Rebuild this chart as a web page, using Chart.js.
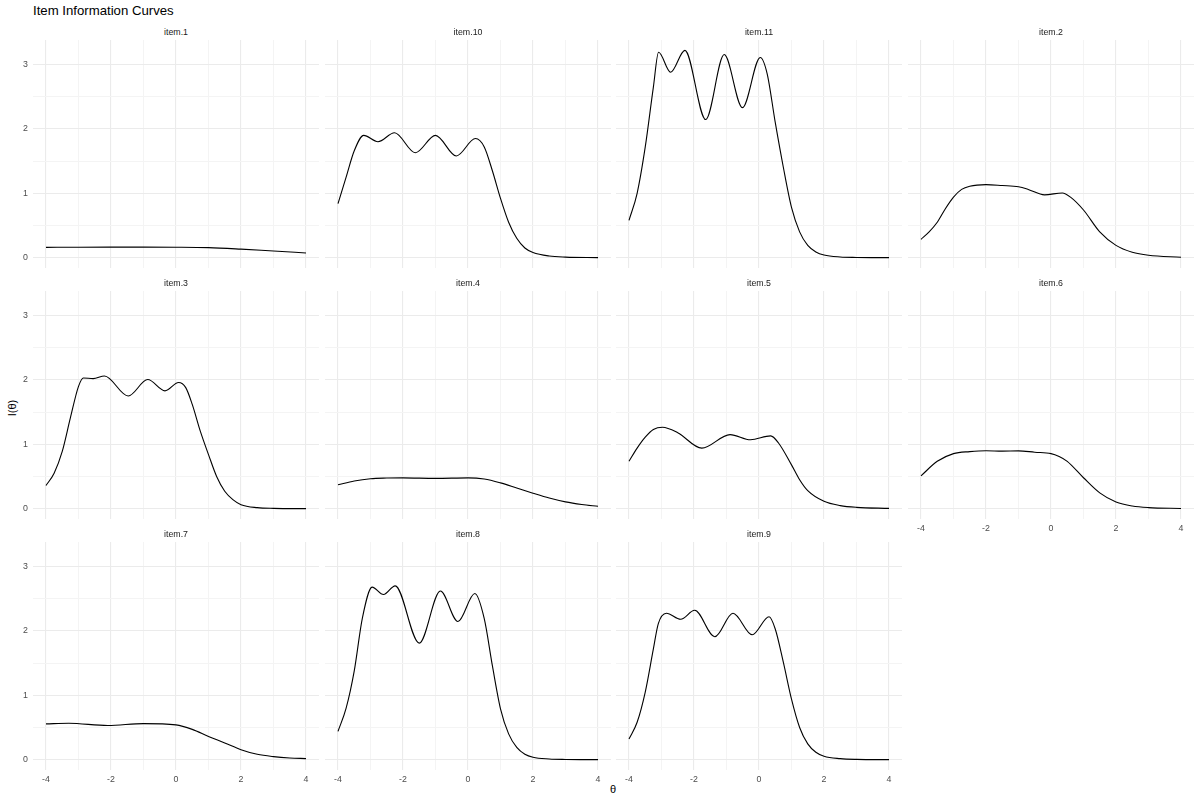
<!DOCTYPE html>
<html><head><meta charset="utf-8">
<script src="https://cdn.jsdelivr.net/npm/chart.js@4"></script>
<style>
body{margin:0;background:#fff;width:1200px;height:800px;position:relative;overflow:hidden;font-family:"Liberation Sans",Arial,sans-serif;}
canvas{position:absolute;}
.t{position:absolute;white-space:nowrap;line-height:1;}
.strip{position:absolute;text-align:center;font-size:8.8px;color:#1a1a1a;line-height:10px;}
</style></head><body>
<div class="t" style="left:33px;top:4px;font-size:13.2px;color:#000">Item Information Curves</div>
<div class="t" style="left:12px;top:408px;font-size:11px;color:#000;transform:translate(-50%,-50%) rotate(-90deg)">I(θ)</div>
<div class="t" style="left:613px;top:789px;font-size:11px;color:#000;transform:translate(-50%,-50%)">θ</div>
<script>
// ---- data ----
const panelNames = ['item.1','item.10','item.11','item.2','item.3','item.4','item.5','item.6','item.7','item.8','item.9'];
const xTicks = [-4,-3,-2,-1,0,1,2,3,4];
const yTicks = [0,0.5,1,1.5,2,2.5,3];

const item1Theta = [-4,-3,-2,-1,0,1,2,3,4];
const item1Info  = [0.160,0.162,0.163,0.163,0.162,0.156,0.132,0.102,0.073];

const item10Theta = [-4,-3.75,-3.5,-3.21,-2.77,-2.26,-1.62,-1.0,-0.36,0.23,0.5,0.75,1.0,1.25,1.5,1.75,2.0,2.5,3.0,4.0];
const item10Info  = [0.84,1.25,1.66,1.90,1.80,1.94,1.63,1.90,1.58,1.85,1.72,1.35,0.92,0.55,0.30,0.15,0.08,0.025,0.008,0.0];

const item11Theta = [-4,-3.75,-3.5,-3.25,-3.09,-2.72,-2.28,-1.64,-1.07,-0.51,0.04,0.25,0.5,0.75,1.0,1.25,1.5,1.75,2.0,2.5,3.0,4.0];
const item11Info  = [0.58,1.0,1.72,2.65,3.19,2.88,3.22,2.145,3.155,2.33,3.11,2.86,2.10,1.40,0.78,0.40,0.19,0.088,0.04,0.01,0.003,0.0];

const item2Theta = [-4,-3.75,-3.5,-3.25,-3,-2.75,-2.5,-2,-1.5,-1,-0.7,-0.2,0.35,0.6,1,1.5,2,2.5,3,4];
const item2Info  = [0.285,0.40,0.55,0.76,0.94,1.06,1.11,1.135,1.12,1.10,1.06,0.975,1.005,0.94,0.74,0.40,0.19,0.083,0.036,0.005];

const item3Theta = [-4,-3.75,-3.5,-3.25,-3,-2.85,-2.55,-2.2,-1.47,-0.87,-0.34,0.08,0.3,0.5,0.75,1,1.25,1.5,1.75,2,2.5,3,4];
const item3Info  = [0.36,0.55,0.89,1.41,1.90,2.03,2.02,2.06,1.75,2.005,1.83,1.96,1.88,1.62,1.20,0.84,0.50,0.27,0.14,0.062,0.015,0.004,0.0];

const item4Theta = [-4,-3.5,-3,-2.5,-2,-1,0,0.5,1,1.5,2,2.5,3,3.5,4];
const item4Info  = [0.37,0.43,0.465,0.475,0.478,0.47,0.478,0.46,0.40,0.32,0.24,0.165,0.105,0.065,0.037];

const item5Theta = [-4,-3.75,-3.5,-3.25,-2.97,-2.5,-1.76,-0.89,-0.26,0.36,0.6,1,1.25,1.5,2,2.5,3,4];
const item5Info  = [0.735,0.94,1.11,1.23,1.265,1.18,0.94,1.15,1.07,1.13,1.02,0.68,0.45,0.28,0.114,0.047,0.02,0.004];

const item6Theta = [-4,-3.5,-3,-2.5,-2,-1.5,-1,-0.5,0,0.25,0.5,1,1.5,2,2.5,3,4];
const item6Info  = [0.51,0.735,0.855,0.886,0.90,0.893,0.898,0.876,0.855,0.81,0.735,0.48,0.245,0.104,0.041,0.016,0.002];

const item7Theta = [-4,-3.3,-2.1,-1,0,0.5,1,1.5,2,2.5,3,3.5,4];
const item7Info  = [0.555,0.565,0.53,0.56,0.54,0.47,0.36,0.26,0.155,0.083,0.047,0.026,0.016];

const item8Theta = [-4,-3.75,-3.5,-3.25,-2.95,-2.6,-2.24,-1.5,-0.85,-0.31,0.21,0.5,0.75,1,1.25,1.5,1.75,2,2.5,3,4];
const item8Info  = [0.44,0.80,1.38,2.20,2.68,2.565,2.70,1.81,2.62,2.145,2.58,2.19,1.46,0.79,0.40,0.19,0.083,0.036,0.01,0.003,0.0];

const item9Theta = [-4,-3.75,-3.5,-3.25,-3.1,-2.85,-2.41,-1.98,-1.36,-0.80,-0.21,0.31,0.5,0.75,1,1.25,1.5,1.75,2,2.5,3,4];
const item9Info  = [0.32,0.58,1.05,1.72,2.11,2.275,2.18,2.32,1.91,2.275,1.94,2.22,2.03,1.51,0.94,0.50,0.245,0.114,0.052,0.015,0.004,0.0];

const thetas = [item1Theta,item10Theta,item11Theta,item2Theta,item3Theta,item4Theta,item5Theta,item6Theta,item7Theta,item8Theta,item9Theta];
const infos  = [item1Info,item10Info,item11Info,item2Info,item3Info,item4Info,item5Info,item6Info,item7Info,item8Info,item9Info];

// ---- layout ----
const PLOT_W = 286, PLOT_H = 228, L = 30, B = 20;
const colLeft = [33,325,616,908], rowTop = [40,291,542];
const X_MIN = -4.4, X_MAX = 4.4, Y_MIN = -0.161, Y_MAX = 3.381;
const FONT = {family:'"Liberation Sans", Arial, sans-serif', size:8.8};

function zeroPad(sc){ sc.paddingTop = 0; sc.paddingBottom = 0; sc.paddingLeft = 0; sc.paddingRight = 0; }

panelNames.forEach((name,i)=>{
  const r = Math.floor(i/4), c = i%4;
  const showX = (r===2) || (r===1 && c===3);
  const showY = (c===0);
  const cv = document.createElement('canvas');
  cv.width = L + PLOT_W; cv.height = PLOT_H + B;
  cv.style.width = cv.width+'px'; cv.style.height = cv.height+'px';
  cv.style.left = (colLeft[c]-L)+'px'; cv.style.top = rowTop[r]+'px';
  document.body.appendChild(cv);

  const s = document.createElement('div');
  s.className = 'strip';
  s.style.left = colLeft[c]+'px'; s.style.width = PLOT_W+'px';
  s.style.top = (rowTop[r]-13)+'px';
  s.textContent = name;
  document.body.appendChild(s);

  const pts = thetas[i].map((t,k)=>({x:t, y:infos[i][k]}));
  new Chart(cv, {
    type:'line',
    data:{datasets:[{data:pts, borderColor:'#000', borderWidth:1.1, pointRadius:0, fill:false, cubicInterpolationMode:'monotone'}]},
    options:{
      responsive:false, animation:false, devicePixelRatio:1,
      layout:{padding:0, autoPadding:false},
      plugins:{legend:{display:false}, tooltip:{enabled:false}},
      scales:{
        x:{type:'linear', min:X_MIN, max:X_MAX,
          afterBuildTicks:(sc)=>{sc.ticks = xTicks.map(v=>({value:v}));},
          afterFit:(sc)=>{sc.height = B; zeroPad(sc);},
          border:{display:false},
          grid:{drawTicks:false,
            color:(ctx)=> (ctx.tick && ctx.tick.value%2===0) ? '#ebebeb' : '#f4f4f4',
            lineWidth:(ctx)=> (ctx.tick && ctx.tick.value%2===0) ? 1.1 : 1},
          ticks:{display:showX, autoSkip:false, maxRotation:0, padding:4, color:'#4d4d4d', font:FONT,
            callback:(v)=> (v%2===0 ? String(v) : '')}
        },
        y:{type:'linear', min:Y_MIN, max:Y_MAX,
          afterBuildTicks:(sc)=>{sc.ticks = yTicks.map(v=>({value:v}));},
          afterFit:(sc)=>{sc.width = L; zeroPad(sc);},
          border:{display:false},
          grid:{drawTicks:false,
            color:(ctx)=> (ctx.tick && Number.isInteger(ctx.tick.value)) ? '#ebebeb' : '#f4f4f4',
            lineWidth:(ctx)=> (ctx.tick && Number.isInteger(ctx.tick.value)) ? 1.1 : 1},
          ticks:{display:showY, autoSkip:false, padding:5, color:'#4d4d4d', font:FONT,
            callback:(v)=> (Number.isInteger(v) ? String(v) : '')}
        }
      }
    }
  });
});
</script>
</body></html>
